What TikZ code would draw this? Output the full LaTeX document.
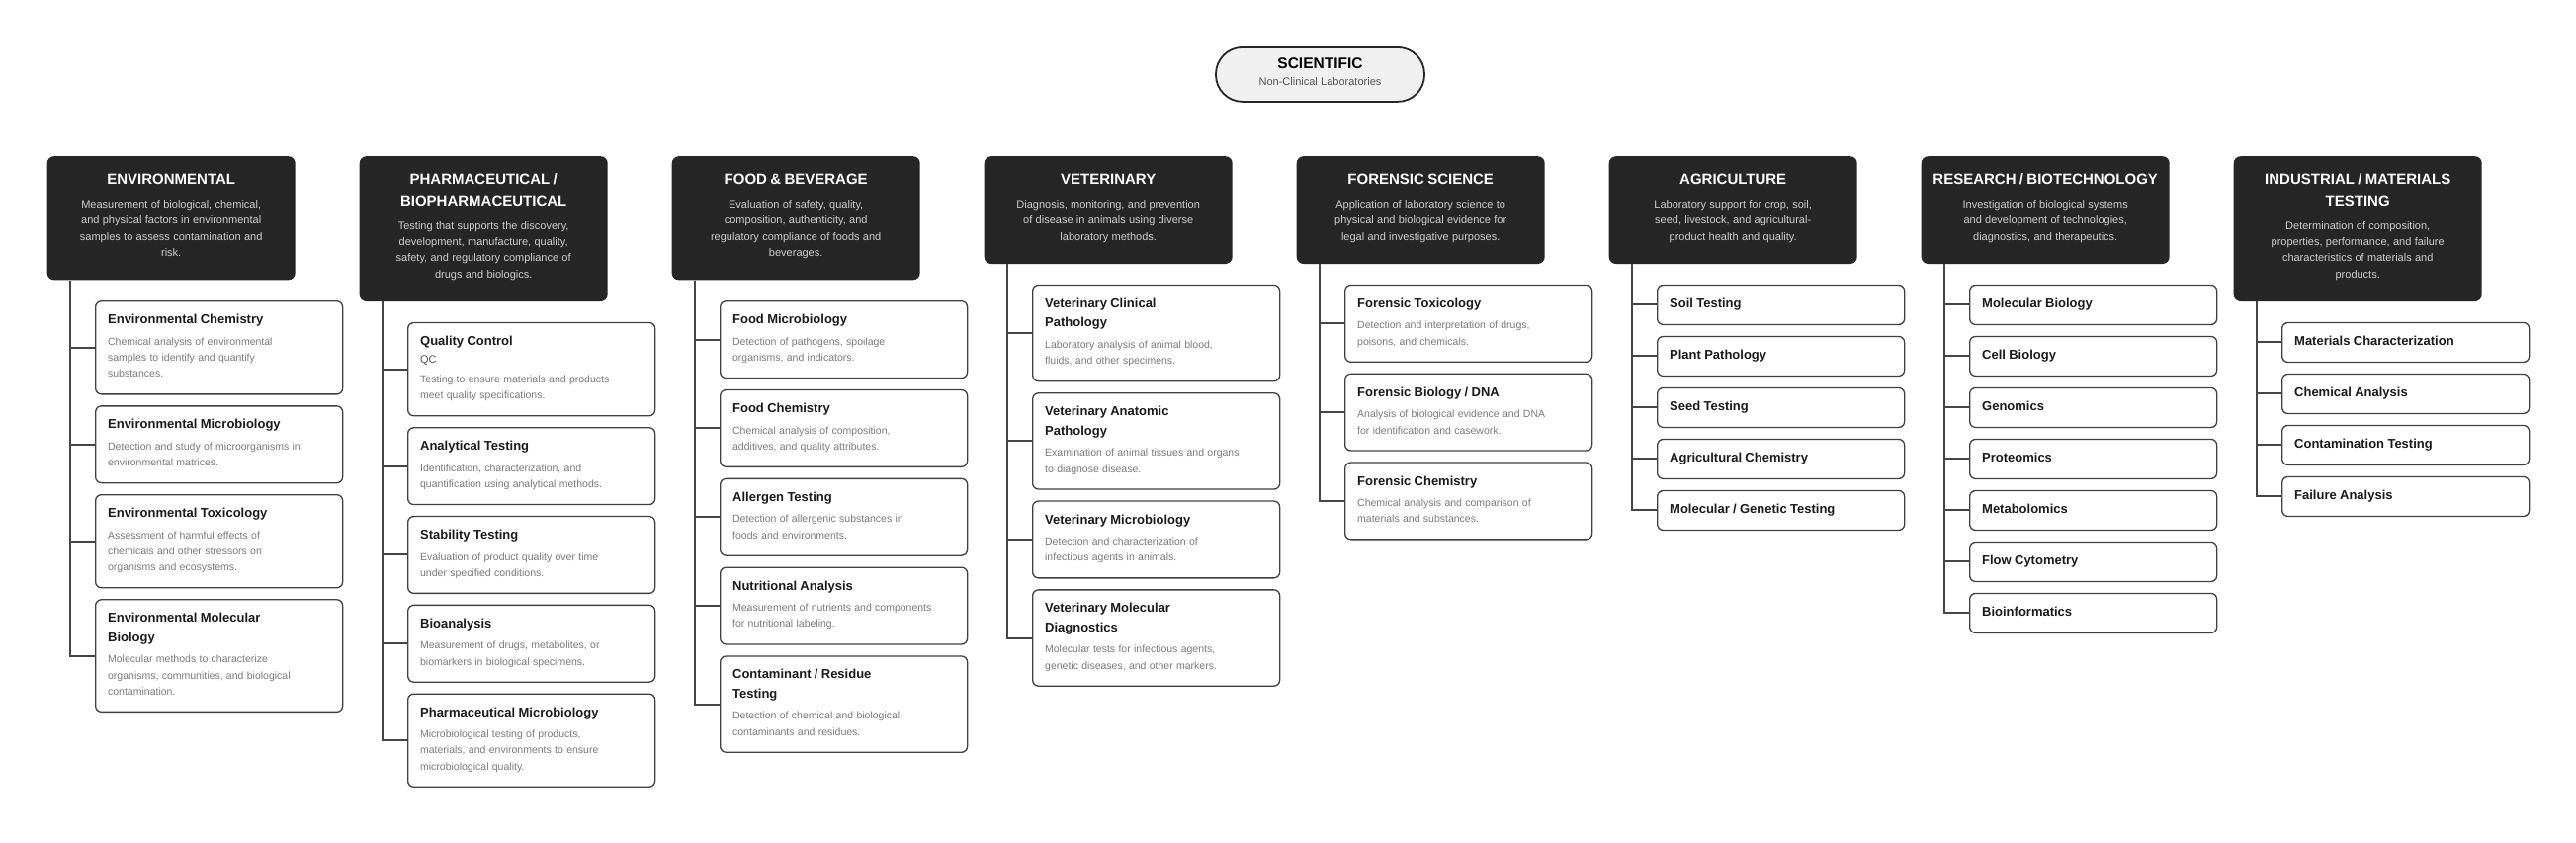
\documentclass[tikz,border=0pt]{standalone}
\usepackage{fontspec}
\setmainfont{Liberation Sans}

\definecolor{catfill}{HTML}{262626}
\definecolor{catdesc}{HTML}{CFCFCF}
\definecolor{titleink}{HTML}{1A1A1A}
\definecolor{descink}{HTML}{7A7A7A}
\definecolor{abbrink}{HTML}{555555}
\definecolor{labline}{HTML}{404040}
\definecolor{linkline}{HTML}{454545}
\definecolor{rootfill}{HTML}{F0F0F0}

% text of the dark category boxes
\newcommand{\cattitle}[1]{{\fontsize{15}{21.7}\selectfont\bfseries\color{white}\rule{0pt}{28.7pt}#1\par}}
\newcommand{\catdesc}[1]{\vspace{7.2pt}{\fontsize{11}{16.3}\selectfont\color{catdesc}#1\rule[-24pt]{0pt}{24pt}\par}}
% text of the white lab boxes
\newcommand{\labtitle}[1]{{\fontsize{13}{19.5}\selectfont\bfseries\color{titleink}\rule{0pt}{23pt}#1\par}}
\newcommand{\labdesc}[1]{\vspace{5.2pt}{\fontsize{10.5}{16.3}\selectfont\color{descink}#1\rule[-17pt]{0pt}{17pt}\par}}
\newcommand{\labonly}[1]{{\fontsize{13}{19.5}\selectfont\bfseries\color{titleink}\rule[-17pt]{0pt}{40pt}#1\par}}

\begin{document}
\begin{tikzpicture}[x=1pt, y=-1pt,
  rootbox/.style={draw=catfill, line width=1.8pt, fill=rootfill, rounded corners=27pt,
    text width=200pt, inner xsep=5.5pt, inner ysep=0pt, align=center, anchor=north},
  catbox/.style={fill=catfill, rounded corners=7pt, text width=239pt, inner xsep=6pt,
    inner ysep=0pt, align=center, anchor=north west},
  labbox/.style={draw=labline, line width=1.3pt, fill=white, rounded corners=6pt,
    text width=225pt, inner xsep=12.5pt, inner ysep=0pt, align=left, anchor=north west},
  link/.style={draw=linkline, line width=2pt}]

\fill[white] (0,0) rectangle (2606,852);
\useasboundingbox (0,0) rectangle (2606,852);

\node[rootbox] (root) at (1335.5,47) {{\fontsize{15.5}{17}\selectfont\bfseries\rule{0pt}{22pt}SCIENTIFIC\par}{\fontsize{11}{17}\selectfont\color{abbrink}Non-Clinical Laboratories\rule[-16pt]{0pt}{16pt}\par}};

% -------- categories -----------
\node[catbox] (env) at (47.5,158) {\cattitle{ENVIRONMENTAL}\catdesc{Measurement of biological, chemical,\\and physical factors in environmental\\samples to assess contamination and\\risk.}};
\node[catbox] (pharma) at (363.5,158) {\cattitle{PHARMACEUTICAL /\\BIOPHARMACEUTICAL}\catdesc{Testing that supports the discovery,\\development, manufacture, quality,\\safety, and regulatory compliance of\\drugs and biologics.}};
\node[catbox] (food) at (679.5,158) {\cattitle{FOOD \& BEVERAGE}\catdesc{Evaluation of safety, quality,\\composition, authenticity, and\\regulatory compliance of foods and\\beverages.}};
\node[catbox] (vet) at (995.5,158) {\cattitle{VETERINARY}\catdesc{Diagnosis, monitoring, and prevention\\of disease in animals using diverse\\laboratory methods.}};
\node[catbox] (forensic) at (1311.5,158) {\cattitle{FORENSIC SCIENCE}\catdesc{Application of laboratory science to\\physical and biological evidence for\\legal and investigative purposes.}};
\node[catbox] (agri) at (1627.5,158) {\cattitle{AGRICULTURE}\catdesc{Laboratory support for crop, soil,\\seed, livestock, and agricultural-\\product health and quality.}};
\node[catbox] (research) at (1943.5,158) {\cattitle{RESEARCH / BIOTECHNOLOGY}\catdesc{Investigation of biological systems\\and development of technologies,\\diagnostics, and therapeutics.}};
\node[catbox] (industrial) at (2259.5,158) {\cattitle{INDUSTRIAL / MATERIALS\\TESTING}\catdesc{Determination of composition,\\properties, performance, and failure\\characteristics of materials and\\products.}};

% -------- environmental -----------
\node[labbox] (env1) at (96,304.1) {\labtitle{Environmental Chemistry}\labdesc{Chemical analysis of environmental\\samples to identify and quantify\\substances.}};
\node[labbox] (env2) at (96,410.2) {\labtitle{Environmental Microbiology}\labdesc{Detection and study of microorganisms in\\environmental matrices.}};
\node[labbox] (env3) at (96,500) {\labtitle{Environmental Toxicology}\labdesc{Assessment of harmful effects of\\chemicals and other stressors on\\organisms and ecosystems.}};
\node[labbox] (env4) at (96,606.1) {\labtitle{Environmental Molecular\\Biology}\labdesc{Molecular methods to characterize\\organisms, communities, and biological\\contamination.}};

% -------- pharmaceutical -----------
\node[labbox] (pharma1) at (412,325.8) {\labtitle{Quality Control}{\fontsize{11}{18.5}\selectfont\color{abbrink}QC\par}\vspace{-2pt}\labdesc{Testing to ensure materials and products\\meet quality specifications.}};
\node[labbox] (pharma2) at (412,432.1) {\labtitle{Analytical Testing}\labdesc{Identification, characterization, and\\quantification using analytical methods.}};
\node[labbox] (pharma3) at (412,521.9) {\labtitle{Stability Testing}\labdesc{Evaluation of product quality over time\\under specified conditions.}};
\node[labbox] (pharma4) at (412,611.7) {\labtitle{Bioanalysis}\labdesc{Measurement of drugs, metabolites, or\\biomarkers in biological specimens.}};
\node[labbox] (pharma5) at (412,701.5) {\labtitle{Pharmaceutical Microbiology}\labdesc{Microbiological testing of products,\\materials, and environments to ensure\\microbiological quality.}};

% -------- food -----------
\node[labbox] (food1) at (728,304.1) {\labtitle{Food Microbiology}\labdesc{Detection of pathogens, spoilage\\organisms, and indicators.}};
\node[labbox] (food2) at (728,393.9) {\labtitle{Food Chemistry}\labdesc{Chemical analysis of composition,\\additives, and quality attributes.}};
\node[labbox] (food3) at (728,483.7) {\labtitle{Allergen Testing}\labdesc{Detection of allergenic substances in\\foods and environments.}};
\node[labbox] (food4) at (728,573.5) {\labtitle{Nutritional Analysis}\labdesc{Measurement of nutrients and components\\for nutritional labeling.}};
\node[labbox] (food5) at (728,663.3) {\labtitle{Contaminant / Residue\\Testing}\labdesc{Detection of chemical and biological\\contaminants and residues.}};

% -------- veterinary -----------
\node[labbox] (vet1) at (1044,287.8) {\labtitle{Veterinary Clinical\\Pathology}\labdesc{Laboratory analysis of animal blood,\\fluids, and other specimens.}};
\node[labbox] (vet2) at (1044,397.1) {\labtitle{Veterinary Anatomic\\Pathology}\labdesc{Examination of animal tissues and organs\\to diagnose disease.}};
\node[labbox] (vet3) at (1044,506.4) {\labtitle{Veterinary Microbiology}\labdesc{Detection and characterization of\\infectious agents in animals.}};
\node[labbox] (vet4) at (1044,596.2) {\labtitle{Veterinary Molecular\\Diagnostics}\labdesc{Molecular tests for infectious agents,\\genetic diseases, and other markers.}};

% -------- forensic -----------
\node[labbox] (forensic1) at (1360,287.8) {\labtitle{Forensic Toxicology}\labdesc{Detection and interpretation of drugs,\\poisons, and chemicals.}};
\node[labbox] (forensic2) at (1360,377.6) {\labtitle{Forensic Biology / DNA}\labdesc{Analysis of biological evidence and DNA\\for identification and casework.}};
\node[labbox] (forensic3) at (1360,467.4) {\labtitle{Forensic Chemistry}\labdesc{Chemical analysis and comparison of\\materials and substances.}};

% -------- agriculture -----------
\node[labbox] (agri1) at (1676,287.8) {\labonly{Soil Testing}};
\node[labbox] (agri2) at (1676,339.8) {\labonly{Plant Pathology}};
\node[labbox] (agri3) at (1676,391.8) {\labonly{Seed Testing}};
\node[labbox] (agri4) at (1676,443.8) {\labonly{Agricultural Chemistry}};
\node[labbox] (agri5) at (1676,495.8) {\labonly{Molecular / Genetic Testing}};

% -------- research -----------
\node[labbox] (research1) at (1992,287.8) {\labonly{Molecular Biology}};
\node[labbox] (research2) at (1992,339.8) {\labonly{Cell Biology}};
\node[labbox] (research3) at (1992,391.8) {\labonly{Genomics}};
\node[labbox] (research4) at (1992,443.8) {\labonly{Proteomics}};
\node[labbox] (research5) at (1992,495.8) {\labonly{Metabolomics}};
\node[labbox] (research6) at (1992,547.8) {\labonly{Flow Cytometry}};
\node[labbox] (research7) at (1992,599.8) {\labonly{Bioinformatics}};

% -------- industrial -----------
\node[labbox] (industrial1) at (2308,325.8) {\labonly{Materials Characterization}};
\node[labbox] (industrial2) at (2308,377.8) {\labonly{Chemical Analysis}};
\node[labbox] (industrial3) at (2308,429.8) {\labonly{Contamination Testing}};
\node[labbox] (industrial4) at (2308,481.8) {\labonly{Failure Analysis}};

% -------- trunks -----------
\coordinate (envT) at ([xshift=23pt]env.south west);
\coordinate (pharmaT) at ([xshift=23pt]pharma.south west);
\coordinate (foodT) at ([xshift=23pt]food.south west);
\coordinate (vetT) at ([xshift=23pt]vet.south west);
\coordinate (forensicT) at ([xshift=23pt]forensic.south west);
\coordinate (agriT) at ([xshift=23pt]agri.south west);
\coordinate (researchT) at ([xshift=23pt]research.south west);
\coordinate (industrialT) at ([xshift=23pt]industrial.south west);

\draw[link] (envT) |- (env1.west);
\draw[link] (envT) |- (env2.west);
\draw[link] (envT) |- (env3.west);
\draw[link] (envT) |- (env4.west);

\draw[link] (pharmaT) |- (pharma1.west);
\draw[link] (pharmaT) |- (pharma2.west);
\draw[link] (pharmaT) |- (pharma3.west);
\draw[link] (pharmaT) |- (pharma4.west);
\draw[link] (pharmaT) |- (pharma5.west);

\draw[link] (foodT) |- (food1.west);
\draw[link] (foodT) |- (food2.west);
\draw[link] (foodT) |- (food3.west);
\draw[link] (foodT) |- (food4.west);
\draw[link] (foodT) |- (food5.west);

\draw[link] (vetT) |- (vet1.west);
\draw[link] (vetT) |- (vet2.west);
\draw[link] (vetT) |- (vet3.west);
\draw[link] (vetT) |- (vet4.west);

\draw[link] (forensicT) |- (forensic1.west);
\draw[link] (forensicT) |- (forensic2.west);
\draw[link] (forensicT) |- (forensic3.west);

\draw[link] (agriT) |- (agri1.west);
\draw[link] (agriT) |- (agri2.west);
\draw[link] (agriT) |- (agri3.west);
\draw[link] (agriT) |- (agri4.west);
\draw[link] (agriT) |- (agri5.west);

\draw[link] (researchT) |- (research1.west);
\draw[link] (researchT) |- (research2.west);
\draw[link] (researchT) |- (research3.west);
\draw[link] (researchT) |- (research4.west);
\draw[link] (researchT) |- (research5.west);
\draw[link] (researchT) |- (research6.west);
\draw[link] (researchT) |- (research7.west);

\draw[link] (industrialT) |- (industrial1.west);
\draw[link] (industrialT) |- (industrial2.west);
\draw[link] (industrialT) |- (industrial3.west);
\draw[link] (industrialT) |- (industrial4.west);

\end{tikzpicture}
\end{document}
